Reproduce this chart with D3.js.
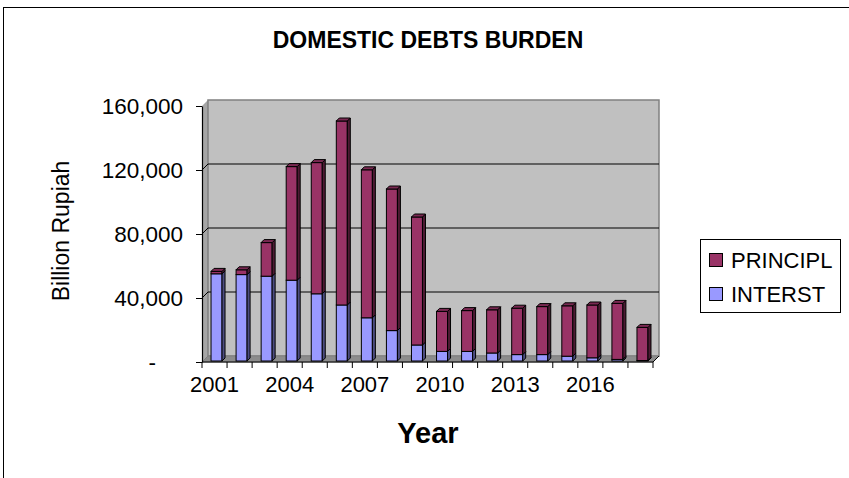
<!DOCTYPE html>
<html>
<head>
<meta charset="utf-8">
<script src="https://cdn.jsdelivr.net/npm/d3@7/dist/d3.min.js"></script>
<style>
  html, body { margin: 0; padding: 0; background: #fff; }
  svg { display: block; font-family: "Liberation Sans", Arial, sans-serif; }
</style>
</head>
<body>
<svg id="chart" width="849" height="478"></svg>
<script>
// Domestic debt burden, billion Rupiah, by year
const years = ["2001","2002","2003","2004","2005","2006","2007","2008","2009",
               "2010","2011","2012","2013","2014","2015","2016","2017","2018"];
const interest  = [54500, 54000, 53000, 50500, 42000, 35000, 27000, 19000, 10000,
                   6000, 6000, 5000, 4000, 4000, 3000, 2000, 1000, 300];
const principal = [1500, 3000, 21000, 71000, 82000, 115000, 92500, 88500, 80000,
                   25000, 25500, 27000, 29000, 30000, 31500, 33000, 35000, 20700];
const yTicks = [0, 40000, 80000, 120000, 160000];
const xLabelYears = ["2001","2004","2007","2010","2013","2016"];
const seriesNames = ["PRINCIPL", "INTERST"];

const colors = {
  principal: { front: "#993366", side: "#4d1a33", top: "#7a2952" },
  interest:  { front: "#9999ff", side: "#4d4d80", top: "#7a7acc" }
};

const svg = d3.select("#chart");

// outer chart frame
svg.append("rect")
  .attr("x", 3.5).attr("y", 7.5)
  .attr("width", 900).attr("height", 600)
  .attr("fill", "#fff").attr("stroke", "#000").attr("stroke-width", 1);

// plot geometry
const plotLeft = 202, plotRight = 653, plotBottom = 362, plotTop = 106;
const depth = 6;            // wall depth offset (right & up)
const barDepth = 3;         // depth of each column

const x = d3.scaleBand().domain(years).range([plotLeft, plotRight]).padding(0);
const y = d3.scaleLinear().domain([0, 160000]).range([plotBottom, plotTop]);

const walls = svg.append("g");

// left side wall
walls.append("path")
  .attr("d", `M${plotLeft},${plotBottom} L${plotLeft},${plotTop} L${plotLeft + depth},${plotTop - depth} L${plotLeft + depth},${plotBottom - depth} Z`)
  .attr("fill", "#a6a6a6").attr("stroke", "none");

// back wall
walls.append("rect")
  .attr("x", plotLeft + depth).attr("y", plotTop - depth)
  .attr("width", plotRight - plotLeft).attr("height", plotBottom - plotTop)
  .attr("fill", "#c0c0c0").attr("stroke", "#808080").attr("stroke-width", 1.5);

// floor
walls.append("path")
  .attr("d", `M${plotLeft},${plotBottom} L${plotRight},${plotBottom} L${plotRight + depth},${plotBottom - depth} L${plotLeft + depth},${plotBottom - depth} Z`)
  .attr("fill", "#8c8c8c").attr("stroke", "#808080").attr("stroke-width", 1);

// gridlines on back and side walls
const grid = svg.append("g");
yTicks.filter(t => t > 0 && t < 160000).forEach(t => {
  grid.append("line")
    .attr("x1", plotLeft + depth).attr("x2", plotRight + depth)
    .attr("y1", y(t) - depth).attr("y2", y(t) - depth)
    .attr("stroke", "#000").attr("stroke-width", 1.2);
  grid.append("line")
    .attr("x1", plotLeft).attr("x2", plotLeft + depth)
    .attr("y1", y(t)).attr("y2", y(t) - depth)
    .attr("stroke", "#000").attr("stroke-width", 1);
});

// columns
const bars = svg.append("g");
const bw = 11;
const shift = 1; // columns stand slightly behind the front edge

function drawBlock(g, x0, y0, y1, c, withTop) {
  // front face
  g.append("rect")
    .attr("x", x0).attr("y", y1)
    .attr("width", bw).attr("height", y0 - y1)
    .attr("fill", c.front).attr("stroke", "#000").attr("stroke-width", 1);
  // right side face
  g.append("path")
    .attr("d", `M${x0 + bw},${y0} L${x0 + bw + barDepth},${y0 - barDepth} L${x0 + bw + barDepth},${y1 - barDepth} L${x0 + bw},${y1} Z`)
    .attr("fill", c.side).attr("stroke", "#000").attr("stroke-width", 1);
  if (withTop) {
    g.append("path")
      .attr("d", `M${x0},${y1} L${x0 + barDepth},${y1 - barDepth} L${x0 + bw + barDepth},${y1 - barDepth} L${x0 + bw},${y1} Z`)
      .attr("fill", c.top).attr("stroke", "#000").attr("stroke-width", 1);
  }
}

years.forEach((yr, i) => {
  const x0 = x(yr) + (x.bandwidth() - bw) / 2 + 1 + shift;
  const g = bars.append("g");
  const base = y(0) - shift;
  const yInt = y(interest[i]) - shift;
  const yTot = y(interest[i] + principal[i]) - shift;
  drawBlock(g, x0, base, yInt, colors.interest, false);
  drawBlock(g, x0, yInt, yTot, colors.principal, true);
});

// y axis
const yAxis = d3.axisLeft(y)
  .tickValues(yTicks)
  .tickSize(6)
  .tickSizeOuter(0)
  .tickPadding(13)
  .tickFormat(v => v === 0 ? "-" : d3.format(",")(v));
const gy = svg.append("g").attr("transform", `translate(${plotLeft},0)`).call(yAxis);
gy.select(".domain").attr("stroke", "#000").attr("stroke-width", 1.2);
gy.selectAll(".tick line").attr("stroke", "#000");
gy.selectAll(".tick text")
  .attr("font-size", 22.5).attr("fill", "#000")
  .attr("font-family", "Liberation Sans, Arial, sans-serif")
  .attr("dx", d => d === 0 ? -27 : 0);

// x axis: ticks on category boundaries, labels every third year
const gx = svg.append("g").attr("transform", `translate(0,${plotBottom})`);
gx.append("line").attr("x1", plotLeft).attr("x2", plotRight).attr("y1", 0).attr("y2", 0)
  .attr("stroke", "#000").attr("stroke-width", 1.2);
gx.append("line").attr("x1", plotRight).attr("x2", plotRight + depth).attr("y1", 0).attr("y2", -depth)
  .attr("stroke", "#000").attr("stroke-width", 1);
d3.range(years.length + 1).forEach(i => {
  const xp = plotLeft + i * x.step();
  gx.append("line").attr("x1", xp).attr("x2", xp).attr("y1", 0).attr("y2", 6)
    .attr("stroke", "#000").attr("stroke-width", 1);
});
const xAxis = d3.axisBottom(x).tickValues(xLabelYears).tickSize(0).tickPadding(14);
const gxl = svg.append("g").attr("transform", `translate(0,${plotBottom})`).call(xAxis);
gxl.select(".domain").remove();
gxl.selectAll(".tick text").attr("font-size", 22).attr("fill", "#000")
  .attr("font-family", "Liberation Sans, Arial, sans-serif");

// titles
svg.append("text")
  .attr("x", 428).attr("y", 48)
  .attr("text-anchor", "middle")
  .attr("font-size", 23).attr("font-weight", "bold")
  .text("DOMESTIC DEBTS BURDEN");

svg.append("text")
  .attr("x", 428).attr("y", 443)
  .attr("text-anchor", "middle")
  .attr("font-size", 29).attr("font-weight", "bold")
  .text("Year");

svg.append("text")
  .attr("transform", "translate(69,231) rotate(-90)")
  .attr("text-anchor", "middle")
  .attr("font-size", 23)
  .text("Billion Rupiah");

// legend
const lg = svg.append("g");
lg.append("rect")
  .attr("x", 700.5).attr("y", 239.5).attr("width", 140).attr("height", 73)
  .attr("fill", "#fff").attr("stroke", "#000").attr("stroke-width", 1);
const legendColors = [colors.principal.front, colors.interest.front];
seriesNames.forEach((name, i) => {
  const yc = 260 + i * 34;
  lg.append("rect")
    .attr("x", 709.5).attr("y", yc - 6.5).attr("width", 13).attr("height", 13)
    .attr("fill", legendColors[i]).attr("stroke", "#000").attr("stroke-width", 1);
  lg.append("text")
    .attr("x", 731).attr("y", yc + 8)
    .attr("font-size", 22)
    .text(name);
});
</script>
</body>
</html>
